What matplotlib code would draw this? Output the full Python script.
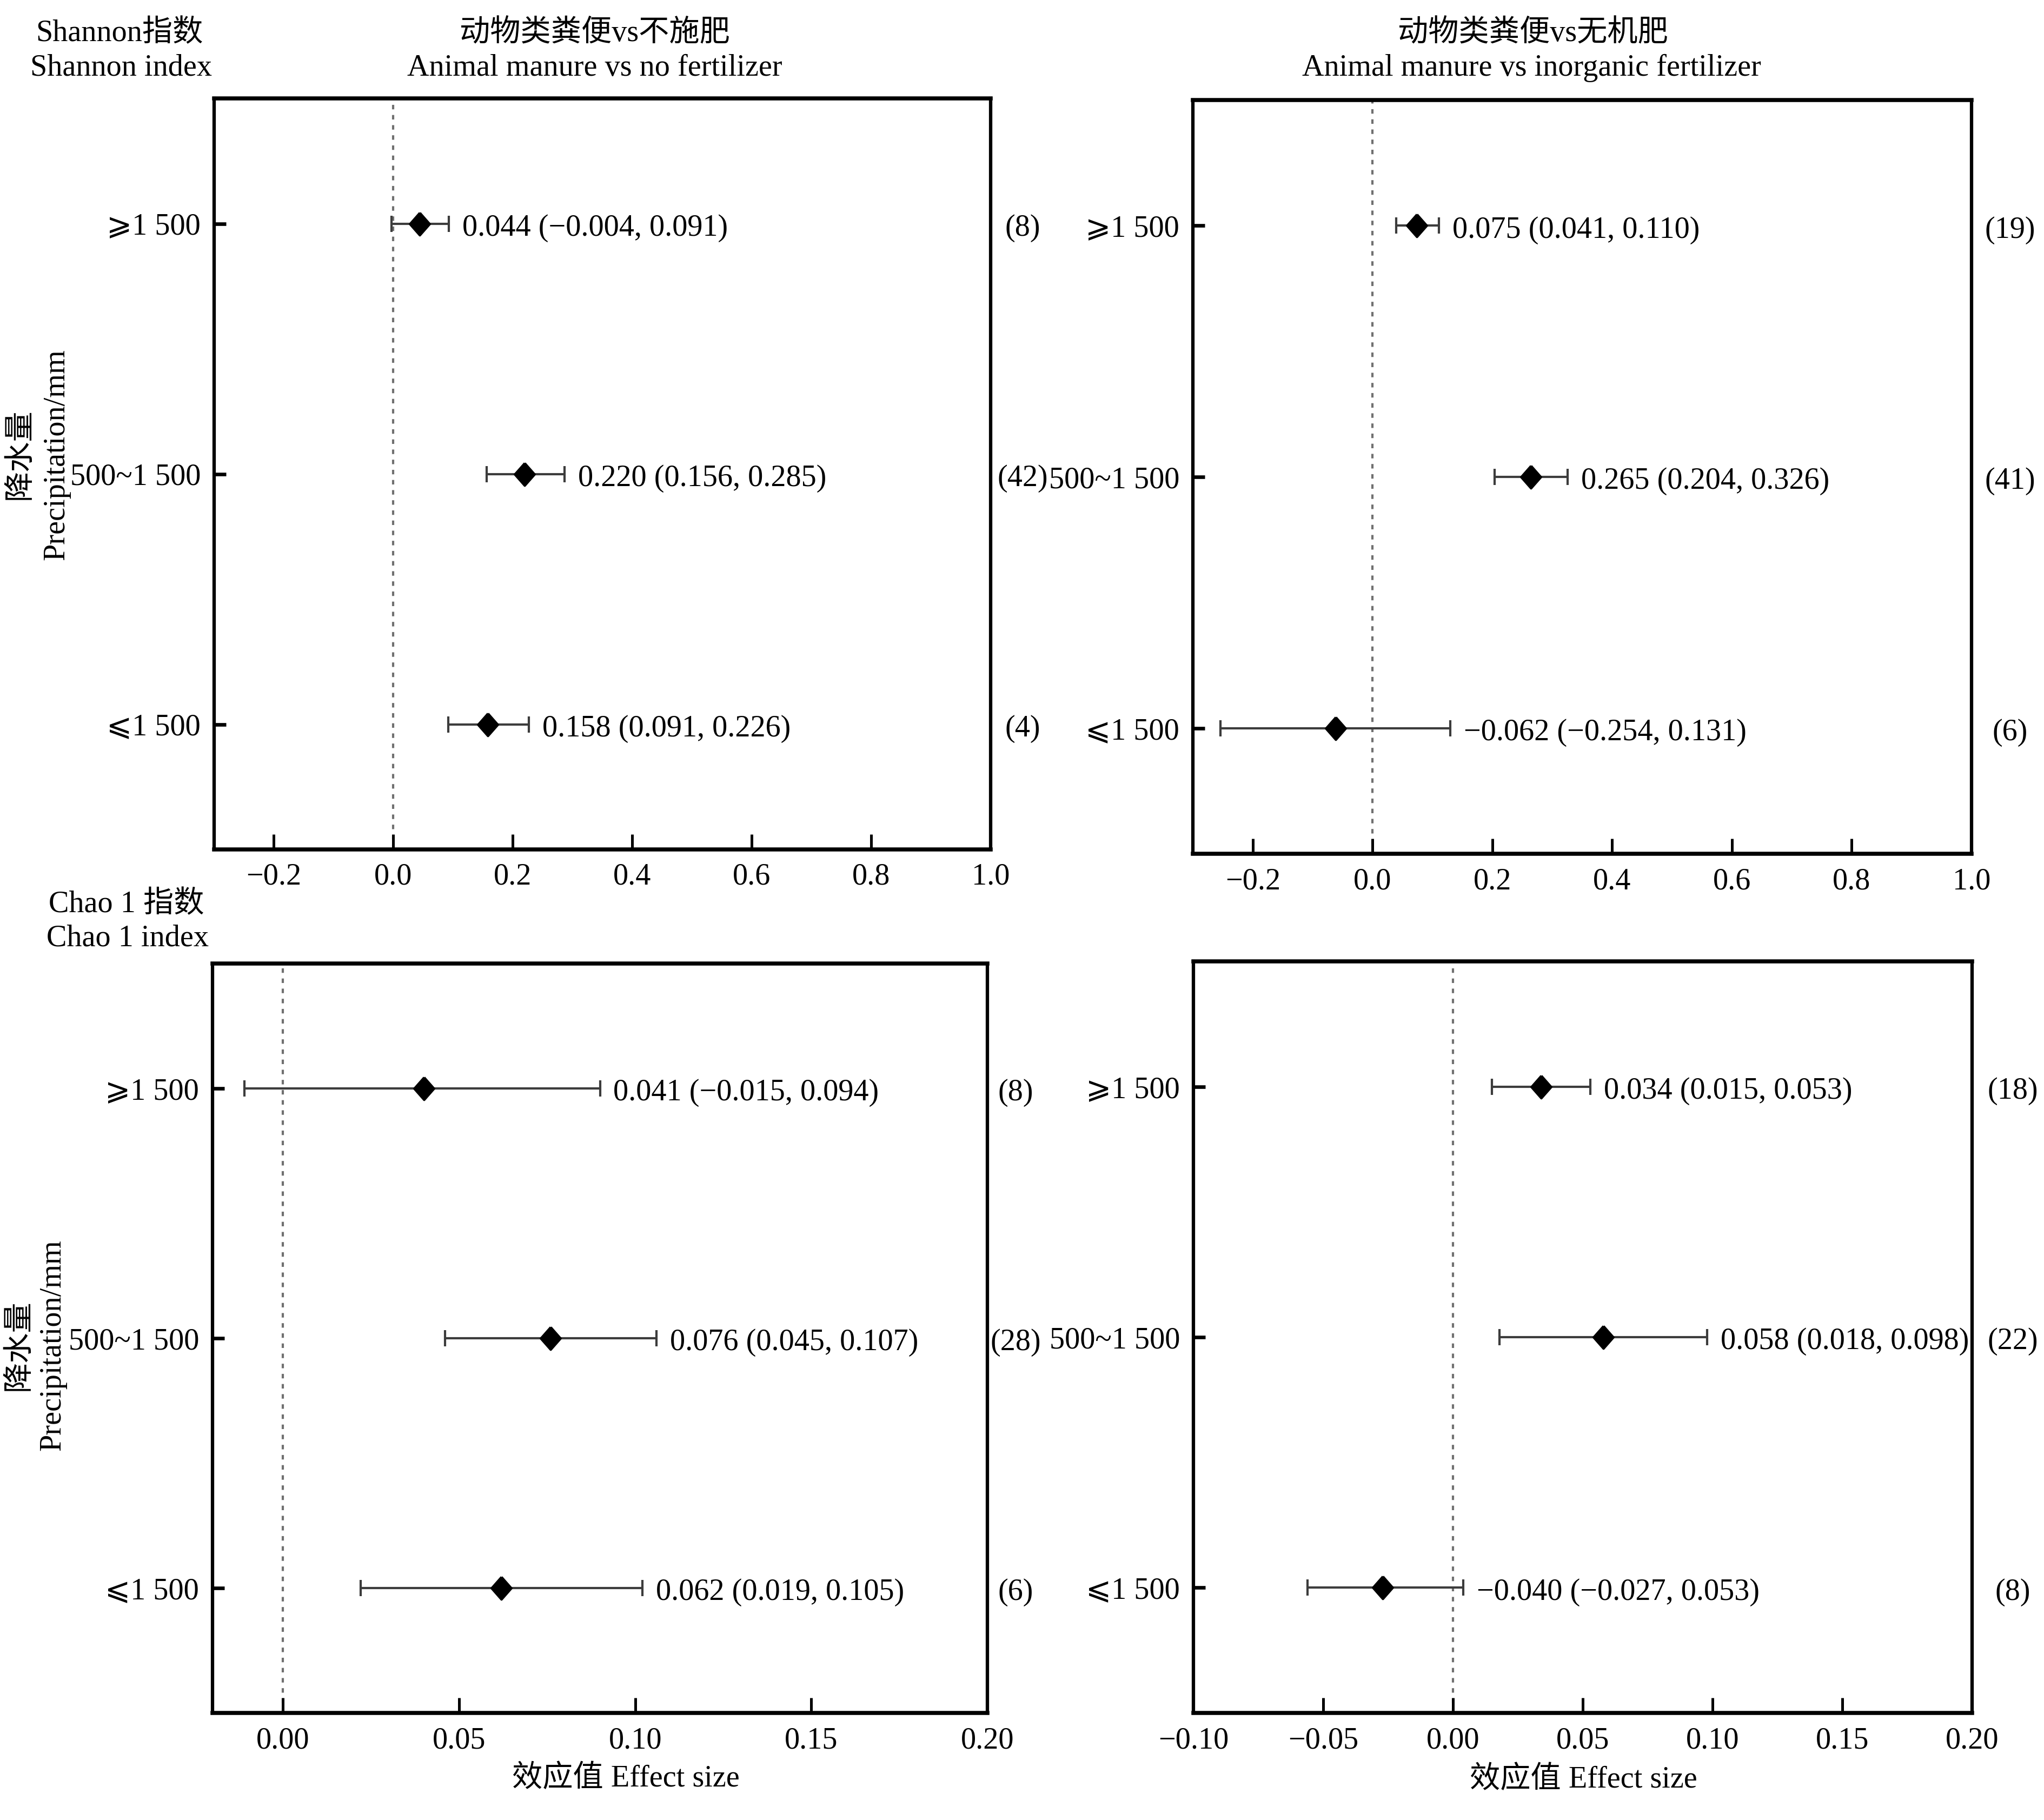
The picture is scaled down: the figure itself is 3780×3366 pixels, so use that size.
import matplotlib
matplotlib.use('Agg')
import matplotlib.pyplot as plt
from matplotlib.transforms import blended_transform_factory

plt.rcParams['font.family'] = ['Liberation Serif', 'Noto Sans CJK SC', 'DejaVu Sans']
plt.rcParams['axes.unicode_minus'] = True

# ---------------- data ----------------
categories = ['⩾1 500', '500~1 500', '⩽1 500']

# Shannon, animal manure vs no fertilizer
tl_mean = [0.044, 0.220, 0.158]
tl_lo = [-0.003, 0.156, 0.092]
tl_hi = [0.093, 0.287, 0.227]
tl_labels = ['0.044 (−0.004, 0.091)', '0.220 (0.156, 0.285)', '0.158 (0.091, 0.226)']
tl_n = ['(8)', '(42)', '(4)']

# Shannon, animal manure vs inorganic fertilizer
tr_mean = [0.074, 0.264, -0.062]
tr_lo = [0.039, 0.204, -0.254]
tr_hi = [0.111, 0.326, 0.130]
tr_labels = ['0.075 (0.041, 0.110)', '0.265 (0.204, 0.326)', '−0.062 (−0.254, 0.131)']
tr_n = ['(19)', '(41)', '(6)']

# Chao 1, animal manure vs no fertilizer
bl_mean = [0.040, 0.076, 0.062]
bl_lo = [-0.011, 0.046, 0.022]
bl_hi = [0.090, 0.106, 0.102]
bl_labels = ['0.041 (−0.015, 0.094)', '0.076 (0.045, 0.107)', '0.062 (0.019, 0.105)']
bl_n = ['(8)', '(28)', '(6)']

# Chao 1, animal manure vs inorganic fertilizer
br_mean = [0.034, 0.058, -0.027]
br_lo = [0.015, 0.018, -0.056]
br_hi = [0.053, 0.098, 0.004]
br_labels = ['0.034 (0.015, 0.053)', '0.058 (0.018, 0.098)', '−0.040 (−0.027, 0.053)']
br_n = ['(18)', '(22)', '(8)']

top_ticks = [-0.2, 0.0, 0.2, 0.4, 0.6, 0.8, 1.0]
bl_ticks = [0.00, 0.05, 0.10, 0.15, 0.20]
br_ticks = [-0.10, -0.05, 0.00, 0.05, 0.10, 0.15, 0.20]

# ---------------- figure ----------------
W, H = 3780, 3366
DPI = 300
fig = plt.figure(figsize=(W / DPI, H / DPI), dpi=DPI)
FS = 13.5


def px_rect(x0, y0, x1, y1):
    return [x0 / W, 1 - y1 / H, (x1 - x0) / W, (y1 - y0) / H]


diamond = [(0, 1), (0.88, 0), (0, -1), (-0.88, 0), (0, 1)]


def panel(rect, mean, lo, hi, labels, ns, xlim, ticks, n_off):
    ax = fig.add_axes(rect)
    ys = list(range(1, len(categories) + 1))
    ax.axvline(0, color='#707070', lw=1.0, dashes=(2, 2.5), zorder=1)
    xerr = [[m - l for m, l in zip(mean, lo)], [h - m for m, h in zip(mean, hi)]]
    ax.errorbar(mean, ys, xerr=xerr, fmt='none', ecolor='#3c3c3c', elinewidth=1.0,
                capsize=3.5, capthick=1.0, zorder=2)
    ax.plot(mean, ys, linestyle='none', marker=diamond, markersize=10,
            color='black', zorder=3)
    for y, h, lab in zip(ys, hi, labels):
        ax.annotate(lab, xy=(h, y), xytext=(6, -2), textcoords='offset points',
                    ha='left', va='center', fontsize=FS)
    trans = blended_transform_factory(ax.transAxes, ax.transData)
    for y, n in zip(ys, ns):
        ax.annotate(n, xy=(1, y), xycoords=trans, xytext=(n_off, -2),
                    textcoords='offset points', ha='center', va='center', fontsize=FS)
    ax.set_xlim(*xlim)
    ax.set_ylim(3.5, 0.5)
    ax.set_xticks(ticks)
    ax.set_yticks(ys)
    ax.set_yticklabels(categories)
    ax.tick_params(axis='x', direction='in', length=6.8, width=1.2, pad=6,
                   labelsize=FS, top=False)
    ax.tick_params(axis='y', direction='in', length=5.3, width=1.6, pad=6,
                   labelsize=FS, right=False)
    for s in ['left', 'right']:
        ax.spines[s].set_linewidth(1.5)
    for s in ['top', 'bottom']:
        ax.spines[s].set_linewidth(1.8)
    return ax


panel(px_rect(396, 182, 1832, 1571), tl_mean, tl_lo, tl_hi, tl_labels, tl_n,
      (-0.3, 1.0), top_ticks, 14.2)
panel(px_rect(2206, 185, 3646, 1579), tr_mean, tr_lo, tr_hi, tr_labels, tr_n,
      (-0.3, 1.0), top_ticks, 17.0)
panel(px_rect(393, 1782, 1826, 3168), bl_mean, bl_lo, bl_hi, bl_labels, bl_n,
      (-0.02, 0.20), bl_ticks, 12.5)
panel(px_rect(2207, 1778, 3647, 3168), br_mean, br_lo, br_hi, br_labels, br_n,
      (-0.10, 0.20), br_ticks, 18.0)


def ftext(x, y, s, **kw):
    kw.setdefault('fontsize', FS)
    fig.text(x / W, 1 - y / H, s, ha='center', va='center', **kw)


ftext(221, 62, 'Shannon指数')
ftext(224, 126, 'Shannon index')
ftext(1100, 62, '动物类粪便vs不施肥')
ftext(1100, 126, 'Animal manure vs no fertilizer')
ftext(2835, 62, '动物类粪便vs无机肥')
ftext(2832, 126, 'Animal manure vs inorganic fertilizer')
ftext(234, 1673, 'Chao 1 指数')
ftext(236, 1736, 'Chao 1 index')
ftext(38, 840, '降水量', rotation=90)
ftext(104, 841, 'Precipitation/mm', rotation=90)
ftext(36, 2488, '降水量', rotation=90)
ftext(97, 2488, 'Precipitation/mm', rotation=90)
ftext(1157, 3290, '效应值 Effect size')
ftext(2928, 3292, '效应值 Effect size')

fig.savefig('out.png', dpi=DPI)
